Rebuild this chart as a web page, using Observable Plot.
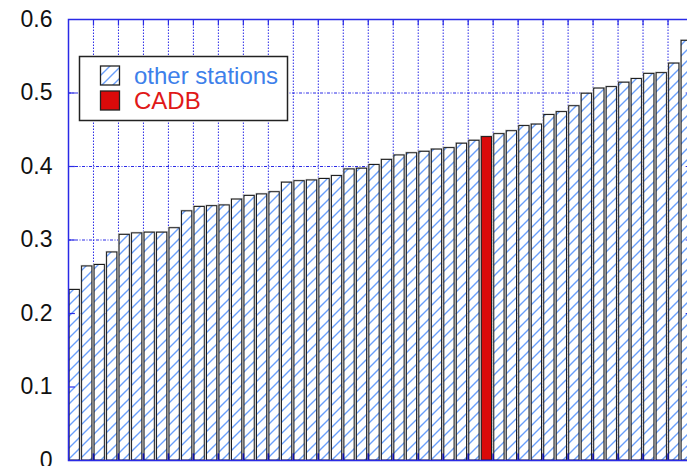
<!DOCTYPE html>
<html>
<head>
<meta charset="utf-8">
<script src="https://cdn.jsdelivr.net/npm/d3@7"></script>
<script src="https://cdn.jsdelivr.net/npm/@observablehq/plot@0.6"></script>
<style>
  html, body { margin: 0; padding: 0; background: #fff; overflow: hidden; }
  #chart { position: relative; width: 687px; height: 466px; overflow: hidden; }
</style>
</head>
<body>
<div id="chart"></div>
<script>
// Sorted station values (left to right)
const values = [
  0.232, 0.264, 0.266, 0.283, 0.307, 0.309, 0.310, 0.310, 0.316, 0.339,
  0.345, 0.346, 0.347, 0.355, 0.360, 0.362, 0.365, 0.378, 0.380, 0.381,
  0.383, 0.387, 0.396, 0.397, 0.402, 0.409, 0.415, 0.418, 0.420, 0.423,
  0.425, 0.431, 0.435, 0.440, 0.444, 0.448, 0.455, 0.457, 0.470, 0.474,
  0.482, 0.499, 0.506, 0.508, 0.514, 0.519, 0.526, 0.527, 0.540, 0.571
];
const cadbRank = 34;           // position of CADB in the sorted list (1-based)
const seriesNames = ["other stations", "CADB"];
const seriesColors = ["#3d80ea", "#e01818"];
const yTicks = [0, 0.1, 0.2, 0.3, 0.4, 0.5, 0.6];
const yTickLabels = ["0", "0.1", "0.2", "0.3", "0.4", "0.5", "0.6"];

const data = values.map((v, k) => ({i: k + 1, v, cadb: k + 1 === cadbRank}));
const others = data.filter(d => !d.cadb);
const cadb = data.filter(d => d.cadb);

const gridXs = d3.range(2.5, values.length, 2);
const gridYs = yTicks.filter(t => t > 0 && t < 0.6);
const half = 0.41;
const blue = "#2a2ae6";
const red = "#da0a0a";

const plot = Plot.plot({
  width: 693,
  height: 466,
  marginLeft: 68,
  marginRight: 0.5,
  marginTop: 19,
  marginBottom: 6,
  style: {fontFamily: "'Liberation Sans', Arial, sans-serif", fontSize: "23px", color: "#111", background: "white"},
  x: {domain: [0.5, values.length + 0.5], axis: null},
  y: {domain: [0, 0.6], axis: null},
  marks: [
    // grid (behind bars)
    Plot.ruleX(gridXs, {x: d => d, y1: 0, y2: 0.6, stroke: blue, strokeWidth: 1, strokeDasharray: "1.5,1.5"}),
    Plot.ruleY(gridYs, {y: d => d, x1: 0.5, x2: values.length + 0.5, stroke: blue, strokeWidth: 1, strokeDasharray: "3,1.5,1,1.5"}),
    // bars: gray halo then black outline
    Plot.rectY(others, {x1: d => d.i - half, x2: d => d.i + half, y: "v", fill: "white", stroke: "#c4c4c4", strokeWidth: 2.2}),
    Plot.rectY(others, {x1: d => d.i - half, x2: d => d.i + half, y: "v", fill: "url(#hatch)", stroke: "#1a1a1a", strokeWidth: 1}),
    Plot.rectY(cadb, {x1: d => d.i - half, x2: d => d.i + half, y: "v", fill: red, stroke: "#c4c4c4", strokeWidth: 2.2}),
    Plot.rectY(cadb, {x1: d => d.i - half, x2: d => d.i + half, y: "v", fill: red, stroke: "#1a1a1a", strokeWidth: 1}),
    // inward tick marks
    Plot.ruleY(gridYs, {y: d => d, x1: 0.5, x2: 1.05, stroke: blue, strokeWidth: 1.2}),
    Plot.ruleY(gridYs, {y: d => d, x1: values.length - 0.05, x2: values.length + 0.5, stroke: blue, strokeWidth: 1.2}),
    Plot.ruleX(gridXs, {x: d => d, y1: 0, y2: 0.009, stroke: "#1010b0", strokeWidth: 1.6}),
    Plot.ruleX(gridXs, {x: d => d, y1: 0.6, y2: 0.591, stroke: blue, strokeWidth: 1.2}),
    Plot.frame({stroke: blue, strokeWidth: 1.5}),
    Plot.axisY({ticks: yTicks, tickFormat: (d, k) => yTickLabels[k], tickSize: 0, tickPadding: 16, label: null, fill: "#111"})
  ]
});

plot.style.maxWidth = "none";
plot.style.overflow = "hidden";

const svg = d3.select(plot);
const defs = svg.insert("defs", ":first-child");
const pat = defs.append("pattern")
  .attr("id", "hatch")
  .attr("patternUnits", "userSpaceOnUse")
  .attr("width", 11).attr("height", 11);
pat.append("rect").attr("width", 11).attr("height", 11).attr("fill", "white");
pat.append("path")
  .attr("d", "M0,11 L11,0 M-3,3 L3,-3 M8,14 L14,8")
  .attr("stroke", "#6a9ffb").attr("stroke-width", 1.4).attr("fill", "none");

// Legend
const lg = svg.append("g")
  .attr("font-family", "'Liberation Sans', Arial, sans-serif")
  .attr("font-size", 24)
  .attr("text-anchor", "start");
lg.append("rect").attr("x", 79.5).attr("y", 56.5).attr("width", 208).attr("height", 64)
  .attr("fill", "white").attr("stroke", "#222").attr("stroke-width", 1.5);
const swFill = ["url(#hatch)", red];
seriesNames.forEach((name, k) => {
  const cy = 75.5 + k * 25;
  lg.append("rect").attr("x", 100.5).attr("y", cy - 9.5).attr("width", 19).attr("height", 19)
    .attr("fill", swFill[k]).attr("stroke", "#222").attr("stroke-width", 1.3);
  lg.append("text").attr("x", 134).attr("y", cy).attr("dy", "0.36em")
    .attr("text-anchor", "start")
    .attr("fill", seriesColors[k]).text(name);
});

document.getElementById("chart").appendChild(plot);
</script>
</body>
</html>
